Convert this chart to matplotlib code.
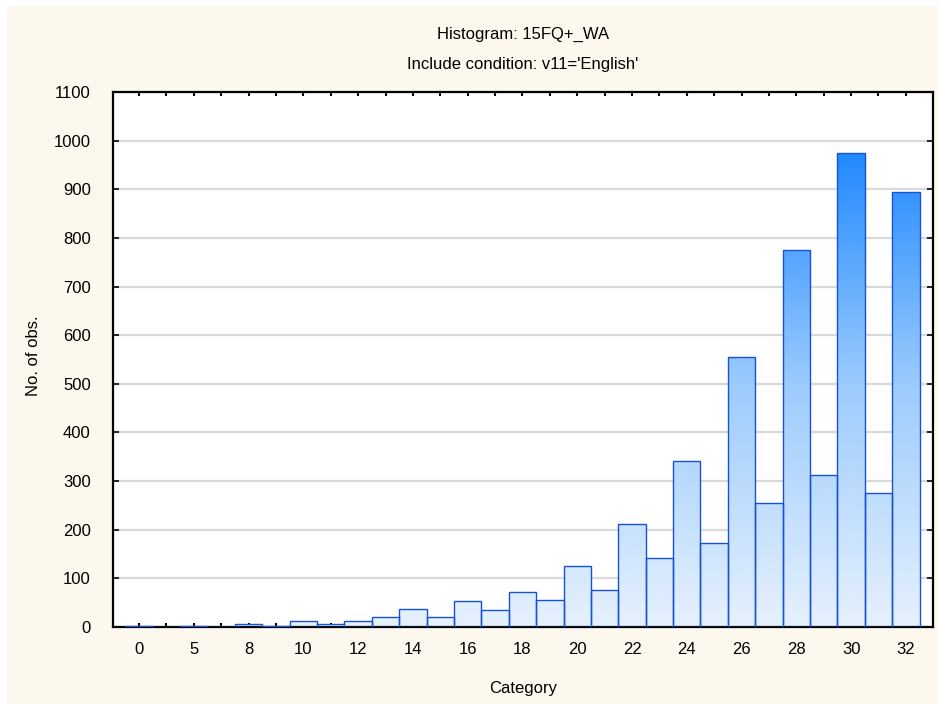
import matplotlib
matplotlib.use("Agg")
import matplotlib.pyplot as plt
from matplotlib import colors
from matplotlib.patches import Rectangle
import numpy as np

# histogram counts, one per category slot (labels only on every other slot)
categories = ["0", "", "5", "", "8", "", "10", "", "12", "", "14", "", "16", "",
              "18", "", "20", "", "22", "", "24", "", "26", "", "28", "", "30", "", "32"]
counts = [3, 0, 3, 0, 6, 3, 13, 7, 13, 21, 37, 21, 53, 35,
          72, 55, 126, 77, 211, 141, 341, 172, 555, 254, 775, 313, 975, 275, 894]
y_ticks = list(range(0, 1101, 100))

title_1 = "Histogram: 15FQ+_WA"
title_2 = "Include condition: v11='English'"
x_label = "Category"
y_label = "No. of obs."

W, H = 938, 704
CREAM = "#fdf8ee"
bar_cmap = colors.LinearSegmentedColormap.from_list("bars", ["#e6f1fd", "#9ccbfd", "#1b86ff"])

plt.rcParams['font.family'] = ['Liberation Sans', 'DejaVu Sans']

fig = plt.figure(figsize=(W / 100, H / 100), dpi=100)
fig.patch.set_facecolor("white")
# cream panel behind everything
fig.patches.append(Rectangle((7 / W, 0), 1, 1 - 6 / H, transform=fig.transFigure,
                             facecolor=CREAM, edgecolor="none", zorder=-10))

ax = fig.add_axes([113 / W, 1 - 627 / H, (933 - 113) / W, (627 - 92) / H])
ax.set_facecolor("white")

x = np.arange(len(counts))
bars = ax.bar(x, counts, width=1.0, facecolor="none", edgecolor="#1652d4",
              linewidth=1.0, zorder=3)

# vertical gradient fill shared by all bars
grad = np.linspace(0, 1100, 256).reshape(-1, 1)
for b in bars:
    if b.get_height() <= 0:
        continue
    im = ax.imshow(grad, extent=(-0.95, 28.99, 0, 1100), origin="lower",
                   aspect="auto", cmap=bar_cmap, vmin=0, vmax=1000, zorder=2)
    im.set_clip_path(b)

ax.set_xlim(-0.95, 28.99)
ax.set_ylim(0, 1100)

ax.set_xticks(x)
ax.set_xticklabels(categories)
ax.set_yticks(y_ticks)
ax.set_yticklabels([str(v) for v in y_ticks])

ax.yaxis.grid(True, color="#d9d9d9", linewidth=1.6, zorder=0)
ax.set_axisbelow(True)

ax.tick_params(axis="x", direction="in", length=3, width=1.5, top=True,
               labelsize=12, pad=11)
ax.tick_params(axis="y", direction="in", length=4, width=1.2, right=True,
               labelsize=12, pad=16)
for s in ax.spines.values():
    s.set_linewidth(1.6)
    s.set_color("black")

narrow = ['Liberation Sans Narrow', 'DejaVu Sans Condensed', 'Liberation Sans']
fig.text(523 / W, 1 - 34 / H, title_1, ha="center", va="center", fontsize=12, family=narrow)
fig.text(523 / W, 1 - 65 / H, title_2, ha="center", va="center", fontsize=12, family=narrow)
fig.text(523 / W, 1 - 688 / H, x_label, ha="center", va="center", fontsize=12)
fig.text(33 / W, 1 - 356 / H, y_label, ha="center", va="center", fontsize=12, rotation=90)

fig.savefig("out.png", dpi=100, facecolor=fig.get_facecolor())
